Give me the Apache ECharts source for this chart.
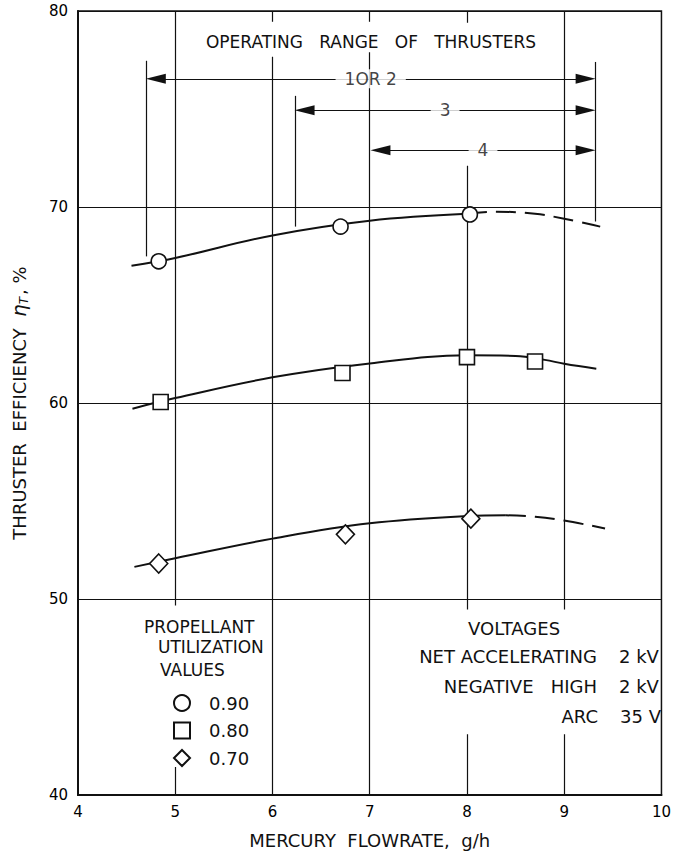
<!DOCTYPE html>
<html>
<head>
<meta charset="utf-8">
<script src="https://cdn.jsdelivr.net/npm/echarts@6/dist/echarts.min.js"></script>
<style>
html, body { margin: 0; padding: 0; background: #fff; }
#chart { width: 674px; height: 854px; }
</style>
</head>
<body>
<div id="chart"></div>
<script>
// measured points: mercury flowrate (g/h) and thruster efficiency (%)
var flow90 = [4.83, 6.70, 8.03];
var eff90 = [67.23, 69.0, 69.62];
var flow80 = [4.85, 6.72, 8.0, 8.70];
var eff80 = [60.05, 61.53, 62.34, 62.12];
var flow70 = [4.83, 6.75, 8.04];
var eff70 = [51.81, 53.3, 54.1];

// faired curves (solid part, then dashed extrapolation)
var curve90Flow = [4.55, 5.0, 6.0, 7.0, 8.0];
var curve90Eff = [67.0, 67.4, 68.55, 69.3, 69.65];
var curve90DashFlow = [8.0, 8.3, 8.7, 9.0, 9.37];
var curve90DashEff = [69.65, 69.76, 69.65, 69.4, 69.0];
var curve80Flow = [4.56, 5.0, 6.0, 7.0, 8.0, 8.5, 8.8, 9.0, 9.33];
var curve80Eff = [59.71, 60.25, 61.31, 62.02, 62.43, 62.4, 62.2, 62.0, 61.75];
var curve70Flow = [4.58, 5.0, 6.0, 7.0, 8.0, 8.4];
var curve70Eff = [51.64, 52.08, 53.08, 53.86, 54.23, 54.27];
var curve70DashFlow = [8.4, 8.7, 9.0, 9.42];
var curve70DashEff = [54.27, 54.2, 54.0, 53.6];

// operating range of thrusters
var rangeNames = ['1OR 2', '3', '4'];
var rangeFrom = [4.70, 6.23, 7.01];
var rangeTo = [9.32, 9.32, 9.32];
var rangeEff = [76.54, 74.93, 72.89];
var bracketFlow = [4.70, 6.23, 9.32];
var bracketTop = [77.46, 75.67, 77.40];
var bracketBottom = [67.48, 69.0, 69.26];

// vertical grid lines are broken where the notes sit: [flow, from, to]
var vGrid = [[5, 80, 49.67], [5, 41.43, 40], [6, 80, 79.45], [6, 77.66, 40],
  [7, 80, 79.45], [7, 77.9, 40], [8, 80, 79.4], [8, 72.1, 49.47], [8, 43.1, 40],
  [9, 80, 49.47], [9, 43.1, 40]];

var xTicks = [4, 10, 1];
var yTicks = [40, 80, 10];

var FONT = 'DejaVu Sans';
var INK = '#111';
var HEAD = 0.1; // half of arrow head length, in g/h

function pairs(xs, ys) {
  return xs.map(function (x, i) { return [x, ys[i]]; });
}
function curve(name, xs, ys, dashed) {
  return {
    name: name, type: 'line', data: pairs(xs, ys), smooth: 0.4, symbol: 'none', z: 3, silent: true,
    lineStyle: { color: INK, width: 2, type: dashed ? [20, 9] : 'solid' }
  };
}
function points(name, xs, ys, symbol, size) {
  return {
    name: name, type: 'scatter', data: pairs(xs, ys), symbol: symbol, symbolSize: size, z: 4, silent: true,
    itemStyle: { color: '#fff', borderColor: INK, borderWidth: 1.6, opacity: 1 }
  };
}
function txt(t, x, y, align, size) {
  return {
    type: 'text', x: x, y: y, silent: true,
    style: { text: t, align: align || 'left', verticalAlign: 'middle', fontSize: size || 17, fontFamily: FONT, fill: INK }
  };
}

var chart = echarts.init(document.getElementById('chart'), null, { renderer: 'svg' });

var option = {
  animation: false,
  grid: { left: 78, right: 3, top: 11, bottom: 56, show: true, borderColor: INK, borderWidth: 1.5 },
  xAxis: {
    type: 'value', min: xTicks[0], max: xTicks[1], interval: xTicks[2],
    name: 'MERCURY  FLOWRATE,  g/h', nameLocation: 'middle', nameGap: 36,
    nameTextStyle: { fontSize: 18, fontFamily: FONT, color: INK },
    axisLine: { lineStyle: { color: INK, width: 2 } },
    axisTick: { show: false },
    axisLabel: { margin: 9, fontSize: 15, fontFamily: FONT, color: '#000' },
    splitLine: { show: false }
  },
  yAxis: {
    type: 'value', min: yTicks[0], max: yTicks[1], interval: yTicks[2],
    name: 'THRUSTER  EFFICIENCY  {e|η}{t|T}, %', nameLocation: 'middle', nameGap: 48,
    nameTextStyle: {
      fontSize: 18, fontFamily: FONT, color: INK,
      rich: {
        e: { fontSize: 20, fontStyle: 'italic', fontFamily: FONT, color: INK },
        t: { fontSize: 12, fontStyle: 'italic', fontFamily: FONT, color: INK, padding: [10, 2, 0, 0] }
      }
    },
    axisLine: { show: true, lineStyle: { color: INK, width: 2 } },
    axisTick: { show: false },
    axisLabel: { margin: 10, fontSize: 15, fontFamily: FONT, color: '#000' },
    splitLine: { lineStyle: { color: INK, width: 1.2 } }
  },
  legend: {
    data: ['0.90', '0.80', '0.70'], orient: 'vertical', left: 168, top: 689,
    itemWidth: 16, itemHeight: 16, itemGap: 9.5, selectedMode: false,
    textStyle: { fontSize: 18, fontFamily: FONT, color: INK, padding: [0, 0, 0, 14] }
  },
  graphic: [
    txt('OPERATING   RANGE   OF   THRUSTERS', 371, 42, 'center', 17),
    txt('PROPELLANT', 144, 627, 'left', 17),
    txt('UTILIZATION', 158, 647, 'left', 17),
    txt('VALUES', 160, 670, 'left', 17),
    txt('VOLTAGES', 468, 628, 'left', 18),
    txt('NET ACCELERATING', 597, 656, 'right', 18),
    txt('NEGATIVE   HIGH', 597, 686, 'right', 18),
    txt('ARC', 598, 716, 'right', 18),
    txt('2 kV', 619, 656, 'left', 18),
    txt('2 kV', 619, 686, 'left', 18),
    txt('35 V', 620, 716, 'left', 18)
  ],
  series: [
    {
      name: 'grid', type: 'line', data: [], silent: true,
      markLine: {
        silent: true, z: 1, symbol: 'none', label: { show: false },
        lineStyle: { color: INK, width: 1.2, type: 'solid' },
        data: vGrid.map(function (s) { return [{ coord: [s[0], s[1]] }, { coord: [s[0], s[2]] }]; })
      }
    },
    {
      name: 'ranges', type: 'line', data: [], silent: true,
      markLine: {
        silent: true, z: 3, symbol: ['triangle', 'triangle'], symbolSize: [10, 20], label: { show: false },
        lineStyle: { color: INK, width: 1.2, type: 'solid' },
        data: rangeNames.map(function (n, i) {
          return [{ coord: [rangeFrom[i] + HEAD, rangeEff[i]] }, { coord: [rangeTo[i] - HEAD, rangeEff[i]] }];
        })
      }
    },
    {
      name: 'brackets', type: 'line', data: [], silent: true,
      markLine: {
        silent: true, z: 3, symbol: 'none', label: { show: false },
        lineStyle: { color: INK, width: 1.2, type: 'solid' },
        data: bracketFlow.map(function (f, i) {
          return [{ coord: [f, bracketTop[i]] }, { coord: [f, bracketBottom[i]] }];
        })
      }
    },
    {
      name: 'rangeLabels', type: 'scatter', symbolSize: 0, z: 6, silent: true,
      itemStyle: { color: '#fff' },
      data: rangeNames.map(function (n, i) { return [(rangeFrom[i] + rangeTo[i]) / 2, rangeEff[i], n]; }),
      label: {
        show: true, position: 'inside', formatter: function (p) { return p.value[2]; },
        backgroundColor: '#fff', padding: [1, 9], fontSize: 17, fontFamily: FONT, color: INK,
        textBorderWidth: 0, textBorderColor: 'transparent'
      }
    },
    curve('c90', curve90Flow, curve90Eff, false),
    curve('c90d', curve90DashFlow, curve90DashEff, true),
    curve('c80', curve80Flow, curve80Eff, false),
    curve('c70', curve70Flow, curve70Eff, false),
    curve('c70d', curve70DashFlow, curve70DashEff, true),
    points('0.90', flow90, eff90, 'circle', 15),
    points('0.80', flow80, eff80, 'rect', 15),
    points('0.70', flow70, eff70, 'diamond', [18, 19])
  ]
};
chart.setOption(option);
</script>
</body>
</html>
